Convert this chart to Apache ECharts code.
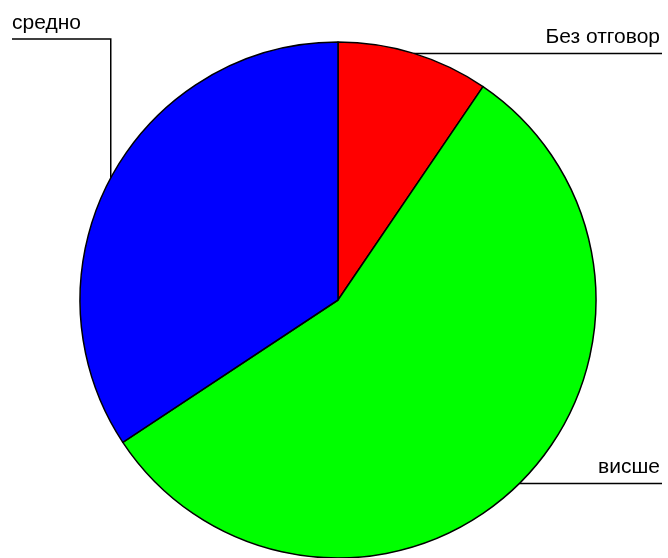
<!DOCTYPE html>
<html>
<head>
<meta charset="utf-8">
<script src="https://cdn.jsdelivr.net/npm/echarts@6/dist/echarts.min.js"></script>
<style>html,body{margin:0;padding:0;background:#fff}#c{width:668px;height:558px}</style>
</head>
<body>
<div id="c"></div>
<script>
var categories = ['Без отговор', 'висше', 'средно'];
var values = [9.5, 56.2, 34.3];
var colors = ['#ff0000', '#00ff00', '#0000ff'];

var chart = echarts.init(document.getElementById('c'), null, {renderer: 'canvas'});
var W = 668;
var option = {
  animation: false,
  backgroundColor: '#ffffff',
  series: [{
    type: 'pie',
    center: [338, 300],
    radius: 258,
    startAngle: 90,
    clockwise: true,
    silent: true,
    data: categories.map(function (c, i) {
      return {name: c, value: values[i], itemStyle: {color: colors[i]}};
    }),
    itemStyle: {borderColor: '#000', borderWidth: 1.5},
    label: {
      show: true,
      position: 'outside',
      formatter: '{b}',
      color: '#000',
      fontFamily: 'Liberation Sans, Arial, sans-serif',
      fontSize: 21
    },
    labelLine: {show: true, length: 10, length2: 10, smooth: false,
      lineStyle: {color: '#000', width: 1.5}},
    labelLayout: function (p) {
      var pts = p.labelLinePoints;
      if (!pts) return {};
      var x1 = pts[0][0], y1 = pts[0][1];
      if (x1 >= 338) {
        return {
          x: W - 8, y: y1 - 6, align: 'right', verticalAlign: 'bottom',
          labelLinePoints: [[x1, y1], [x1 + 1, y1], [W - 6, y1]]
        };
      } else {
        var ly = 39;
        return {
          x: 12, y: ly - 5, align: 'left', verticalAlign: 'bottom',
          labelLinePoints: [[x1, y1], [x1, ly], [12, ly]]
        };
      }
    }
  }]
};
chart.setOption(option);
</script>
</body>
</html>
